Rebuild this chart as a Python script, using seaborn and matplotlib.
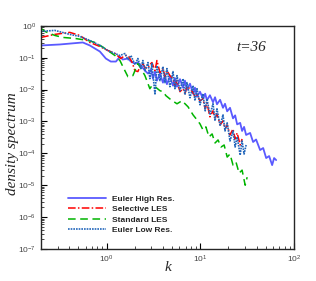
#!/usr/bin/env python3
"""
Density spectrum at t=36: Euler vs LES runs (log-log)
"""

import numpy as np
import pandas as pd
import matplotlib
matplotlib.use("Agg")
import matplotlib.pyplot as plt
import seaborn as sns

# wavenumbers and log10(density spectrum)
euler_high_k = [0.2, 0.317, 0.558, 0.663, 0.75, 0.848, 0.983, 1.11, 1.26, 1.39,
                1.49, 1.69, 1.82, 2.01, 2.16, 2.33, 2.57, 2.77, 2.98,
                3.13, 3.29, 3.45, 3.72, 4.00, 4.20, 4.41, 4.75, 5.12, 5.37,
                5.65, 6.08, 6.55, 6.87, 7.22, 7.78, 8.38, 8.79, 9.24, 9.95,
                10.7, 11.3, 11.8, 12.7, 13.7, 14.4, 15.1, 16.3, 17.5, 18.4,
                19.4, 20.8, 22.4, 23.6, 24.8, 26.7, 28.0, 29.4, 30.9, 34.1,
                36.7, 39.5, 43.6, 47.0, 50.6, 54.4, 58.6, 61.5, 64.7]
euler_high_log = [-0.615, -0.584, -0.521, -0.615, -0.710, -0.804, -1.025, -1.120, -1.120, -0.962,
                  -1.057, -1.025, -1.120, -1.183, -1.151, -1.246, -1.404, -1.498, -1.372,
                  -1.656, -1.435, -1.719, -1.498, -1.782, -1.562, -1.830, -1.593, -1.877, -1.640,
                  -1.909, -1.672, -1.940, -1.719, -2.003, -1.814, -2.129, -1.940, -2.224, -2.066,
                  -2.287, -2.129, -2.334, -2.177, -2.397, -2.240, -2.461, -2.319, -2.571, -2.445,
                  -2.681, -2.571, -2.902, -2.808, -3.091, -3.044, -3.297, -3.170, -3.423, -3.360,
                  -3.644, -3.565, -3.896, -3.833, -4.148, -4.085, -4.369, -4.148, -4.211]

selective_k = [0.2, 0.28, 0.405, 0.518, 0.663, 0.848, 1.03, 1.23, 1.42, 1.57,
               1.69, 1.86, 2.01, 2.16, 2.33, 2.44, 2.57, 2.77, 2.90, 3.05,
               3.29, 3.45, 3.72, 4.00, 4.20, 4.41, 4.75, 5.12, 5.37, 5.65,
               6.08, 6.55, 6.87, 7.22, 7.78, 8.38, 8.79, 9.24, 9.95, 10.7,
               11.3, 11.8, 12.7, 13.7, 14.4, 15.1, 16.3, 17.5, 18.4, 19.4,
               20.8, 22.4, 23.6, 24.8, 26.7, 28.0]
selective_log = [-0.363, -0.268, -0.205, -0.300, -0.521, -0.647, -0.773, -0.868, -1.025, -0.931,
                 -0.931, -1.120, -1.404, -1.435, -1.215, -1.183, -1.309, -1.341, -1.215, -1.151,
                 -1.404, -1.088, -1.467, -1.341, -1.593, -1.404, -1.562, -1.656, -1.877, -1.719,
                 -2.066, -1.972, -2.129, -1.909, -1.972, -2.098, -2.224, -2.161, -2.350, -2.287,
                 -2.603, -2.413, -2.855, -2.666, -2.918, -2.760, -3.107, -2.981, -3.233, -3.107,
                 -3.423, -3.233, -3.549, -3.360, -3.738, -3.549]

standard_k = [0.2, 0.219, 0.28, 0.341, 0.458, 0.631, 0.75, 0.891, 1.03, 1.23,
              1.39, 1.53, 1.69, 1.91, 2.16, 2.33, 2.57, 2.90, 3.05, 3.29,
              3.72, 4.00, 4.31, 4.87, 5.65, 6.39, 7.41, 8.38, 9.24, 9.95,
              10.7, 11.5, 12.4, 13.4, 14.4, 15.5, 16.7, 18.0, 19.4, 20.8,
              22.4, 24.1, 26.0, 28.0, 30.2, 31.7]
standard_log = [-0.079, -0.174, -0.300, -0.363, -0.394, -0.457, -0.521, -0.647, -0.773, -0.931,
                -1.088, -1.341, -1.593, -1.562, -1.183, -1.341, -1.562, -1.972, -1.877, -1.909,
                -2.035, -2.066, -2.192, -2.319, -2.445, -2.350, -2.539, -2.792, -2.950, -3.076,
                -3.265, -3.170, -3.486, -3.391, -3.675, -3.580, -3.801, -3.738, -4.117, -4.022,
                -4.369, -4.274, -4.621, -4.527, -5.000, -4.748]

euler_low_k = [0.2, 0.28, 0.405, 0.518, 0.663, 0.848, 1.03, 1.23, 1.39, 1.57,
               1.69, 1.82, 2.01, 2.16, 2.33, 2.44, 2.57, 2.77, 2.90, 3.05,
               3.29, 3.45, 3.72, 4.00, 4.20, 4.41, 4.75, 5.12, 5.37, 5.65,
               6.08, 6.55, 6.87, 7.22, 7.78, 8.38, 8.79, 9.24, 9.95, 10.7,
               11.3, 11.8, 12.7, 13.7, 14.4, 15.1, 16.3, 17.5, 18.4, 19.4,
               20.8, 22.4, 23.6, 24.8, 26.7, 28.0, 29.4, 30.9]
euler_low_log = [-0.174, -0.142, -0.268, -0.331, -0.457, -0.615, -0.773, -0.868, -0.931, -0.868,
                 -1.057, -0.931, -1.215, -1.025, -1.341, -1.088, -1.404, -1.151, -1.656, -1.183,
                 -2.161, -1.246, -1.719, -1.278, -1.782, -1.341, -1.909, -1.435, -1.972, -1.562,
                 -2.035, -1.656, -2.161, -1.782, -2.256, -1.877, -2.350, -1.972, -2.476, -2.129,
                 -2.666, -2.287, -2.792, -2.445, -2.981, -2.603, -3.139, -2.792, -3.297, -3.044,
                 -3.612, -3.297, -3.801, -3.486, -4.054, -3.612, -4.022, -3.738]

series = [
    ("Euler High Res.", euler_high_k, euler_high_log, "#5a5aff", "-", 1.3),
    ("Selective LES", selective_k, selective_log, "#ff0000", (0, (5, 1.5, 1, 1.5)), 1.1),
    ("Standard LES", standard_k, standard_log, "#00b400", (0, (5, 3)), 1.1),
    ("Euler Low Res.", euler_low_k, euler_low_log, "#2266bb", (0, (1, 0.6)), 1.2),
]


def main():
    sns.set_style("ticks")
    plt.rcParams["font.family"] = ["Liberation Sans", "DejaVu Sans"]

    fig = plt.figure(figsize=(3.16, 2.81), dpi=100)
    ax = fig.add_axes([0.130, 0.114, 0.800, 0.794])

    for name, k, logv, color, ls, lw in series:
        df = pd.DataFrame({"k": k, "E": 10.0 ** np.array(logv)})
        sns.lineplot(data=df, x="k", y="E", ax=ax, color=color, linestyle=ls,
                     linewidth=lw, estimator=None, sort=False, label=name)

    ax.set_xscale("log")
    ax.set_yscale("log")
    ax.set_xlim(0.2, 100)
    ax.set_ylim(1e-7, 1)
    ax.set_yticks([10.0 ** e for e in range(-7, 1)])

    ax.tick_params(which="both", direction="in", top=False, right=False,
                   labelsize=6, labelcolor="#444444", colors="black")
    ax.tick_params(which="major", length=4, width=0.8)
    ax.tick_params(which="minor", length=2, width=0.5)
    for sp in ax.spines.values():
        sp.set_linewidth(1.0)

    serif = dict(family="Liberation Serif", style="italic")
    ax.set_xlabel("k", fontsize=11, **serif)
    ax.xaxis.set_label_coords(0.5, -0.055)
    ax.set_ylabel("density spectrum", fontsize=11, **serif)
    ax.yaxis.set_label_coords(-0.088, 0.47)
    ax.text(0.83, 0.905, "t=36", transform=ax.transAxes, ha="center",
            va="center", fontsize=11, **serif)

    ax.legend(loc="upper left", bbox_to_anchor=(0.09, 0.26),
              frameon=False, handlelength=4.6, handletextpad=0.7,
              borderpad=0, labelspacing=0.3,
              prop=dict(size=6, weight="bold"))

    fig.savefig("out.png", dpi=100)
    plt.close(fig)


if __name__ == "__main__":
    main()
